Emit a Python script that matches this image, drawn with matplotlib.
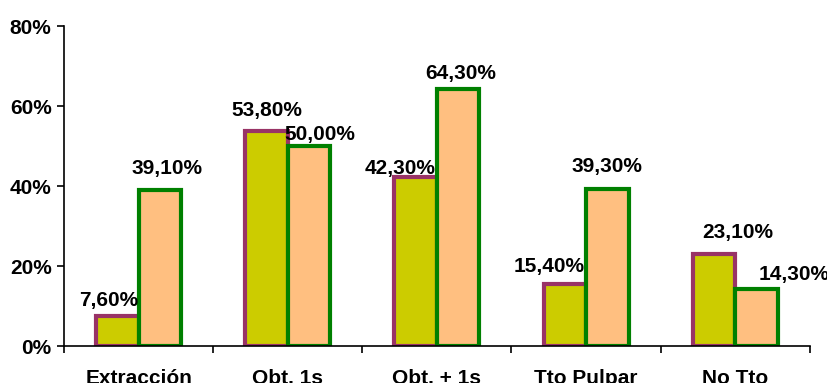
import matplotlib
matplotlib.use("Agg")
import matplotlib.pyplot as plt
import numpy as np

categories = ["Extracción", "Obt. 1s", "Obt. + 1s", "Tto Pulpar", "No Tto"]
serie_a = [7.6, 53.8, 42.3, 15.4, 23.1]
serie_b = [39.1, 50.0, 64.3, 39.3, 14.3]

# label nudges (points) so the value texts sit where they were placed by hand
nudge_a = [(-6, 7), (0, 11), (-11, 2), (-11, 9), (17, 11)]
nudge_b = [(5, 11), (8, 4), (2, 7), (0, 12), (27, 6)]

plt.rcParams["font.family"] = ["Liberation Sans", "DejaVu Sans"]
plt.rcParams["font.weight"] = "bold"

fig = plt.figure(figsize=(8.28, 3.83), dpi=100)
ax = fig.add_axes([0.0773, 0.0966, 0.9007, 0.8354])

x = np.arange(len(categories))
w = 0.285
ax.bar(x - w / 2, serie_a, width=w, color="#CCCC00", edgecolor="#993366", linewidth=3)
ax.bar(x + w / 2, serie_b, width=w, color="#FFBF80", edgecolor="#008000", linewidth=3)


def fmt(v):
    return f"{v:.2f}".replace(".", ",") + "%"


for xs, vals, nudges in ((x - w / 2, serie_a, nudge_a), (x + w / 2, serie_b, nudge_b)):
    for xi, v, (dx, dy) in zip(xs, vals, nudges):
        ax.annotate(fmt(v), (xi, v), xytext=(dx, dy), textcoords="offset points",
                    ha="center", va="baseline", fontsize=15, fontweight="bold")

ax.set_xlim(-0.5, len(categories) - 0.5)
ax.set_ylim(0, 80)
ax.set_yticks(range(0, 81, 20))
ax.set_yticklabels([f"{t}%" for t in range(0, 81, 20)], fontsize=15, fontweight="bold")
ax.set_xticks(x)
ax.set_xticklabels(categories, fontsize=15, fontweight="bold")
ax.tick_params(axis="x", which="major", length=0, pad=16.5)
ax.set_xticks(np.arange(-0.5, len(categories)), minor=True)
ax.tick_params(axis="x", which="minor", length=5, width=1.2, direction="out")
ax.tick_params(axis="y", length=5, width=1.2, direction="out", pad=4)

for side in ("top", "right"):
    ax.spines[side].set_visible(False)
for side in ("left", "bottom"):
    ax.spines[side].set_linewidth(1.2)

fig.savefig("out.png", dpi=100)
